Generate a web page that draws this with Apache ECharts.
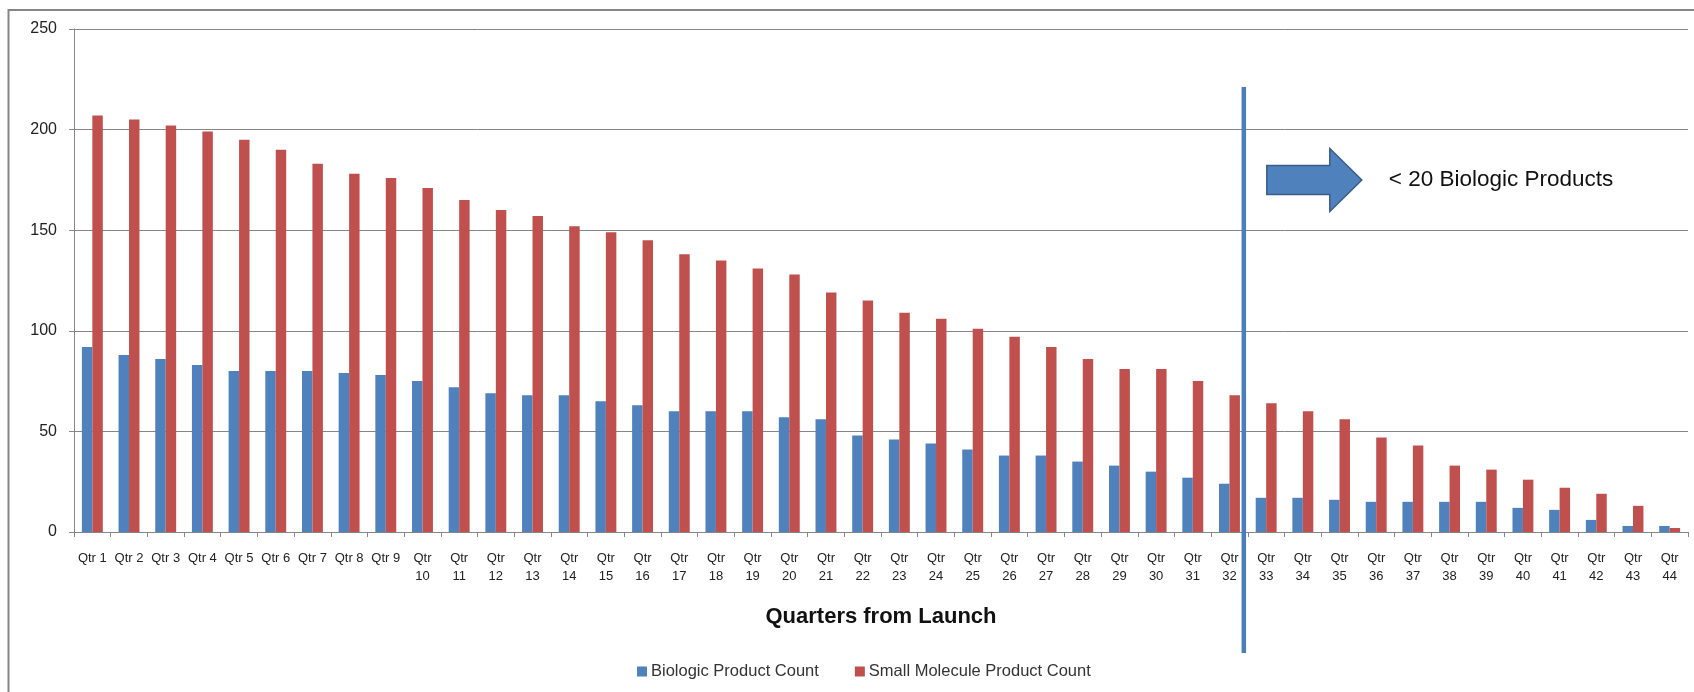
<!DOCTYPE html>
<html>
<head>
<meta charset="utf-8">
<script src="https://cdn.jsdelivr.net/npm/echarts@6/dist/echarts.min.js"></script>
<style>
  html, body { margin: 0; padding: 0; background: #fff; }
  #chart { width: 1694px; height: 692px; }
</style>
</head>
<body>
<div id="chart"></div>
<script>
// quarters from launch
const quarters = [
  'Qtr 1', 'Qtr 2', 'Qtr 3', 'Qtr 4', 'Qtr 5', 'Qtr 6', 'Qtr 7', 'Qtr 8', 'Qtr 9', 'Qtr 10',
  'Qtr 11', 'Qtr 12', 'Qtr 13', 'Qtr 14', 'Qtr 15', 'Qtr 16', 'Qtr 17', 'Qtr 18', 'Qtr 19', 'Qtr 20',
  'Qtr 21', 'Qtr 22', 'Qtr 23', 'Qtr 24', 'Qtr 25', 'Qtr 26', 'Qtr 27', 'Qtr 28', 'Qtr 29', 'Qtr 30',
  'Qtr 31', 'Qtr 32', 'Qtr 33', 'Qtr 34', 'Qtr 35', 'Qtr 36', 'Qtr 37', 'Qtr 38', 'Qtr 39', 'Qtr 40',
  'Qtr 41', 'Qtr 42', 'Qtr 43', 'Qtr 44'
];

const biologic = [
  92, 88, 86, 83, 80, 80, 80, 79, 78, 75,
  72, 69, 68, 68, 65, 63, 60, 60, 60, 57,
  56, 48, 46, 44, 41, 38, 38, 35, 33, 30,
  27, 24, 17, 17, 16, 15, 15, 15, 15, 12,
  11, 6, 3, 3
];

const smallMolecule = [
  207, 205, 202, 199, 195, 190, 183, 178, 176, 171,
  165, 160, 157, 152, 149, 145, 138, 135, 131, 128,
  119, 115, 109, 106, 101, 97, 92, 86, 81, 81,
  75, 68, 64, 60, 56, 47, 43, 33, 31, 26,
  22, 19, 13, 2
];

const seriesNames = ['Biologic Product Count', 'Small Molecule Product Count'];
const noteText = '< 20 Biologic Products';
const lastIdxAbove20 = 31; // Qtr 32, the line sits after it

const gray = '#868686';
const fontFamily = '"Liberation Sans", Arial, sans-serif';

const chart = echarts.init(document.getElementById('chart'));

const option = {
  animation: false,
  textStyle: { fontFamily: fontFamily },
  grid: { left: 74, right: 6, top: 29, bottom: 160, containLabel: false },
  legend: {
    data: seriesNames,
    left: 632,
    top: 658,
    icon: 'rect',
    itemWidth: 10,
    itemHeight: 10,
    itemGap: 36,
    textStyle: { fontSize: 16.5, color: '#333', fontFamily: fontFamily, padding: [0, 0, 0, -1] }
  },
  xAxis: {
    type: 'category',
    data: quarters,
    name: 'Quarters from Launch',
    nameLocation: 'middle',
    nameGap: 74,
    nameTextStyle: { fontSize: 22, fontWeight: 'bold', color: '#111', fontFamily: fontFamily },
    axisLine: { lineStyle: { color: gray, width: 1 } },
    axisTick: { show: true, length: 5, lineStyle: { color: gray } },
    axisLabel: {
      interval: 0,
      margin: 17,
      fontSize: 13,
      lineHeight: 18,
      color: '#222',
      formatter: function (v, i) {
        return i < 9 ? v : v.replace(' ', '\n');
      }
    }
  },
  yAxis: {
    type: 'value',
    min: 0,
    max: 250,
    interval: 50,
    axisLine: { show: true, lineStyle: { color: gray, width: 1 } },
    axisTick: { show: true, length: 5, lineStyle: { color: gray } },
    splitLine: { lineStyle: { color: gray, width: 1 } },
    axisLabel: { fontSize: 16, color: '#222', margin: 17 }
  },
  series: [
    {
      name: seriesNames[0],
      type: 'bar',
      data: biologic,
      barGap: '0%',
      barCategoryGap: '43%',
      itemStyle: { color: '#4f81bd' }
    },
    {
      name: seriesNames[1],
      type: 'bar',
      data: smallMolecule,
      barGap: '0%',
      barCategoryGap: '43%',
      itemStyle: { color: '#c0504d' }
    }
  ]
};

chart.setOption(option);

// divider line between Qtr 32 and Qtr 33, plus the arrow note
const pA = chart.convertToPixel({ xAxisIndex: 0 }, quarters[lastIdxAbove20]);
const pB = chart.convertToPixel({ xAxisIndex: 0 }, quarters[lastIdxAbove20 + 1]);
const lineX = (pA + pB) / 2 - 4;
const arrowY = 180;

chart.setOption({
  graphic: [
    {
      type: 'polyline',
      shape: { points: [[8.5, 700], [8.5, 10], [1700, 10]] },
      style: { stroke: gray, lineWidth: 2, fill: null },
      silent: true
    },
    {
      type: 'line',
      shape: { x1: lineX, y1: 87, x2: lineX, y2: 653 },
      style: { stroke: '#4a7ebb', lineWidth: 4.5 },
      z: 100
    },
    {
      type: 'polygon',
      shape: {
        points: [
          [lineX + 23, arrowY - 14.5],
          [lineX + 86, arrowY - 14.5],
          [lineX + 86, arrowY - 31.5],
          [lineX + 118, arrowY],
          [lineX + 86, arrowY + 31.5],
          [lineX + 86, arrowY + 14.5],
          [lineX + 23, arrowY + 14.5]
        ]
      },
      style: { fill: '#4f81bd', stroke: '#385d8a', lineWidth: 1.5 },
      z: 100
    },
    {
      type: 'text',
      x: lineX + 145,
      y: arrowY,
      style: {
        text: noteText,
        fontSize: 22.5,
        fontFamily: fontFamily,
        fill: '#111',
        verticalAlign: 'middle',
        align: 'left'
      },
      z: 100
    }
  ]
});
</script>
</body>
</html>
